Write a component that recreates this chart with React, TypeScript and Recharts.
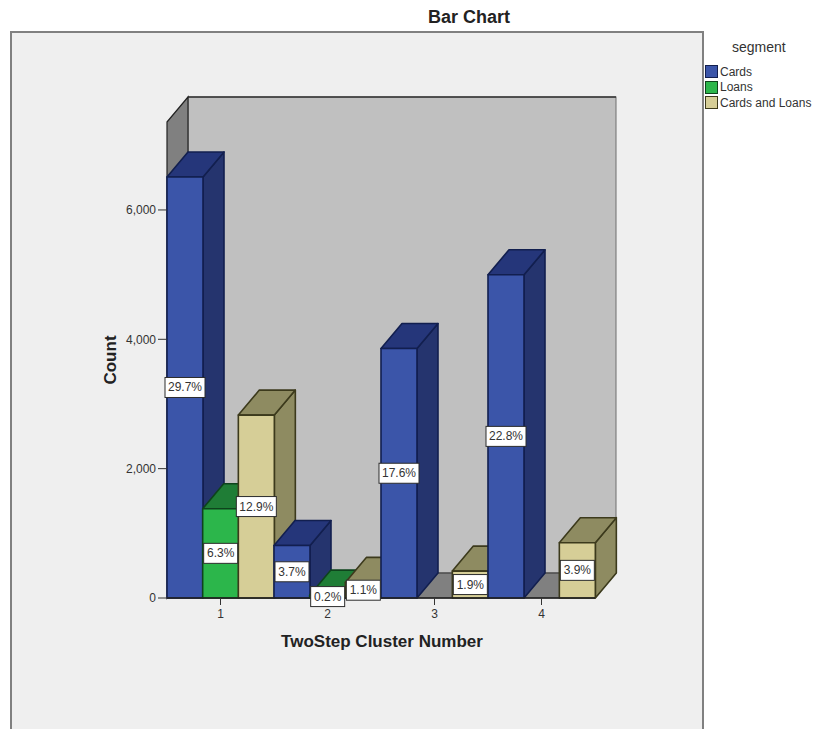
import { BarChart, Bar, XAxis, YAxis, LabelList, Label, ReferenceArea } from 'recharts';

const categories = ['1', '2', '3', '4'];
const segments = ['Cards', 'Loans', 'Cards and Loans'];

const cardsCounts = [6510, 811, 3858, 4998];
const loansCounts = [1381, 44, 0, 0];
const bothCounts = [2828, 241, 416, 855];

const cardsShares = ['29.7%', '3.7%', '17.6%', '22.8%'];
const loansShares = ['6.3%', '0.2%', null, null];
const bothShares = ['12.9%', '1.1%', '1.9%', '3.9%'];

const countTicks = [0, 2000, 4000, 6000];

// bars have to paint strictly left to right so each box hides the side of its
// left neighbour, so every category/segment pair gets its own slot on one Bar
const rows = categories.flatMap((category, i) => [
    { slot: `${category}-0`, category, segment: 0, count: cardsCounts[i], share: cardsShares[i] },
    { slot: `${category}-1`, category, segment: 1, count: loansCounts[i], share: loansShares[i] },
    { slot: `${category}-2`, category, segment: 2, count: bothCounts[i], share: bothShares[i] },
]);
const centreSlots = categories.map(category => `${category}-1`);

const DEPTH_X = 21;
const DEPTH_Y = 25;

const boxColors = [
    { front: '#3b55a9', top: '#25367a', side: '#25346e', edge: '#121f4f' },
    { front: '#2cb64b', top: '#1f7d36', side: '#1b6a2e', edge: '#0e431c' },
    { front: '#d6ce97', top: '#8e8b61', side: '#8e8b61', edge: '#3c3a1c' },
];

function Walls({ x, y, width, height }: any) {
    const bottom = y + height;
    const backLeft = x + DEPTH_X;
    const backRight = x + width + DEPTH_X;
    const backTop = y - DEPTH_Y;
    const backBottom = bottom - DEPTH_Y;
    return (
        <g>
            <rect x={backLeft} y={backTop} width={width} height={height} fill="#c0c0c0" stroke="#6f6f6f" strokeWidth={1} />
            <line x1={backLeft} y1={backTop} x2={backRight} y2={backTop} stroke="#333" strokeWidth={1.5} />
            <polygon
                points={`${x},${y} ${backLeft},${backTop} ${backLeft},${backBottom} ${x},${bottom}`}
                fill="#808080"
                stroke="#222"
                strokeWidth={1.2}
            />
            <polygon
                points={`${x},${bottom} ${backLeft},${backBottom} ${backRight},${backBottom} ${x + width},${bottom}`}
                fill="#808080"
                stroke="#333"
                strokeWidth={1}
            />
        </g>
    );
}

function Box({ x, y, width, height, payload }: any) {
    if (!height || height <= 0) return null;
    const c = boxColors[payload.segment];
    const right = x + width;
    const bottom = y + height;
    return (
        <g stroke={c.edge} strokeWidth={1.6} strokeLinejoin="round">
            <polygon
                points={`${right},${y} ${right + DEPTH_X},${y - DEPTH_Y} ${right + DEPTH_X},${bottom - DEPTH_Y} ${right},${bottom}`}
                fill={c.side}
            />
            <polygon
                points={`${x},${y} ${x + DEPTH_X},${y - DEPTH_Y} ${right + DEPTH_X},${y - DEPTH_Y} ${right},${y}`}
                fill={c.top}
            />
            <rect x={x} y={y} width={width} height={height} fill={c.front} />
        </g>
    );
}

function ShareTag({ x, y, width, height, value }: any) {
    if (!value) return null;
    const boxW = String(value).length > 4 ? 40 : 34;
    const boxH = 20;
    const cx = x + width / 2;
    const cy = y + height / 2;
    return (
        <g>
            <rect x={cx - boxW / 2} y={cy - boxH / 2} width={boxW} height={boxH} fill="#fff" stroke="#2c2c2c" strokeWidth={1} />
            <text x={cx} y={cy + 4} textAnchor="middle" fontSize={12} fill="#333">
                {value}
            </text>
        </g>
    );
}

function SegmentLegend() {
    return (
        <div style={{ position: 'absolute', left: 705, top: 40, width: 112, fontFamily: 'Liberation Sans', color: '#333' }}>
            <div style={{ fontSize: 14, position: 'absolute', left: 27, top: 0, lineHeight: '14px' }}>segment</div>
            <div style={{ paddingTop: 24 }}>
                {segments.map((name, i) => (
                    <div key={name} style={{ display: 'flex', alignItems: 'center', height: 15.5, fontSize: 12, whiteSpace: 'nowrap' }}>
                        <span
                            style={{
                                width: 11,
                                height: 11,
                                marginRight: 2,
                                background: boxColors[i].front,
                                border: `1px solid ${boxColors[i].edge}`,
                                flex: 'none',
                            }}
                        />
                        {name}
                    </div>
                ))}
            </div>
        </div>
    );
}

export default function App() {
    return (
        <div style={{ position: 'absolute', left: 0, top: 0, width: 816, height: 729, background: '#fff', overflow: 'hidden' }}>
            <div
                style={{
                    position: 'absolute',
                    left: 10,
                    top: 31,
                    width: 690,
                    height: 720,
                    background: '#efefef',
                    border: '2px solid #808080',
                }}
            />
            <div
                style={{
                    position: 'absolute',
                    left: 369,
                    top: 7,
                    width: 200,
                    textAlign: 'center',
                    font: 'bold 18px "Liberation Sans"',
                    color: '#222',
                }}
            >
                Bar Chart
            </div>
            <BarChart
                width={816}
                height={729}
                data={rows}
                margin={{ top: 122, right: 221, bottom: 71, left: 107 }}
                barCategoryGap={0}
                barGap={0}
                style={{ position: 'absolute', left: 0, top: 0, fontFamily: 'Liberation Sans' }}
            >
                <ReferenceArea y1={0} y2={7360} shape={Walls} />
                <XAxis
                    dataKey="slot"
                    ticks={centreSlots}
                    interval={0}
                    tickFormatter={(slot: string) => slot.split('-')[0]}
                    tick={{ fill: '#333', fontSize: 12 }}
                    tickSize={7}
                    tickMargin={4}
                    tickLine={{ stroke: '#333' }}
                    axisLine={{ stroke: '#222', strokeWidth: 1.5 }}
                    height={60}
                >
                    <Label value="TwoStep Cluster Number" position="insideTop" offset={37} dx={1} fill="#222" fontSize={17} fontWeight="bold" />
                </XAxis>
                <YAxis
                    width={60}
                    domain={[0, 7360]}
                    ticks={countTicks}
                    tickFormatter={(v: number) => v.toLocaleString('en-US')}
                    tick={{ fill: '#333', fontSize: 12 }}
                    tickSize={9}
                    tickLine={{ stroke: '#333' }}
                    axisLine={false}
                >
                    <Label value="Count" angle={-90} position="insideLeft" offset={3} textAnchor="middle" fill="#222" fontSize={17} fontWeight="bold" />
                </YAxis>
                <Bar dataKey="count" shape={Box} isAnimationActive={false}>
                    <LabelList dataKey="share" content={ShareTag} />
                </Bar>
            </BarChart>
            <SegmentLegend />
        </div>
    );
}
